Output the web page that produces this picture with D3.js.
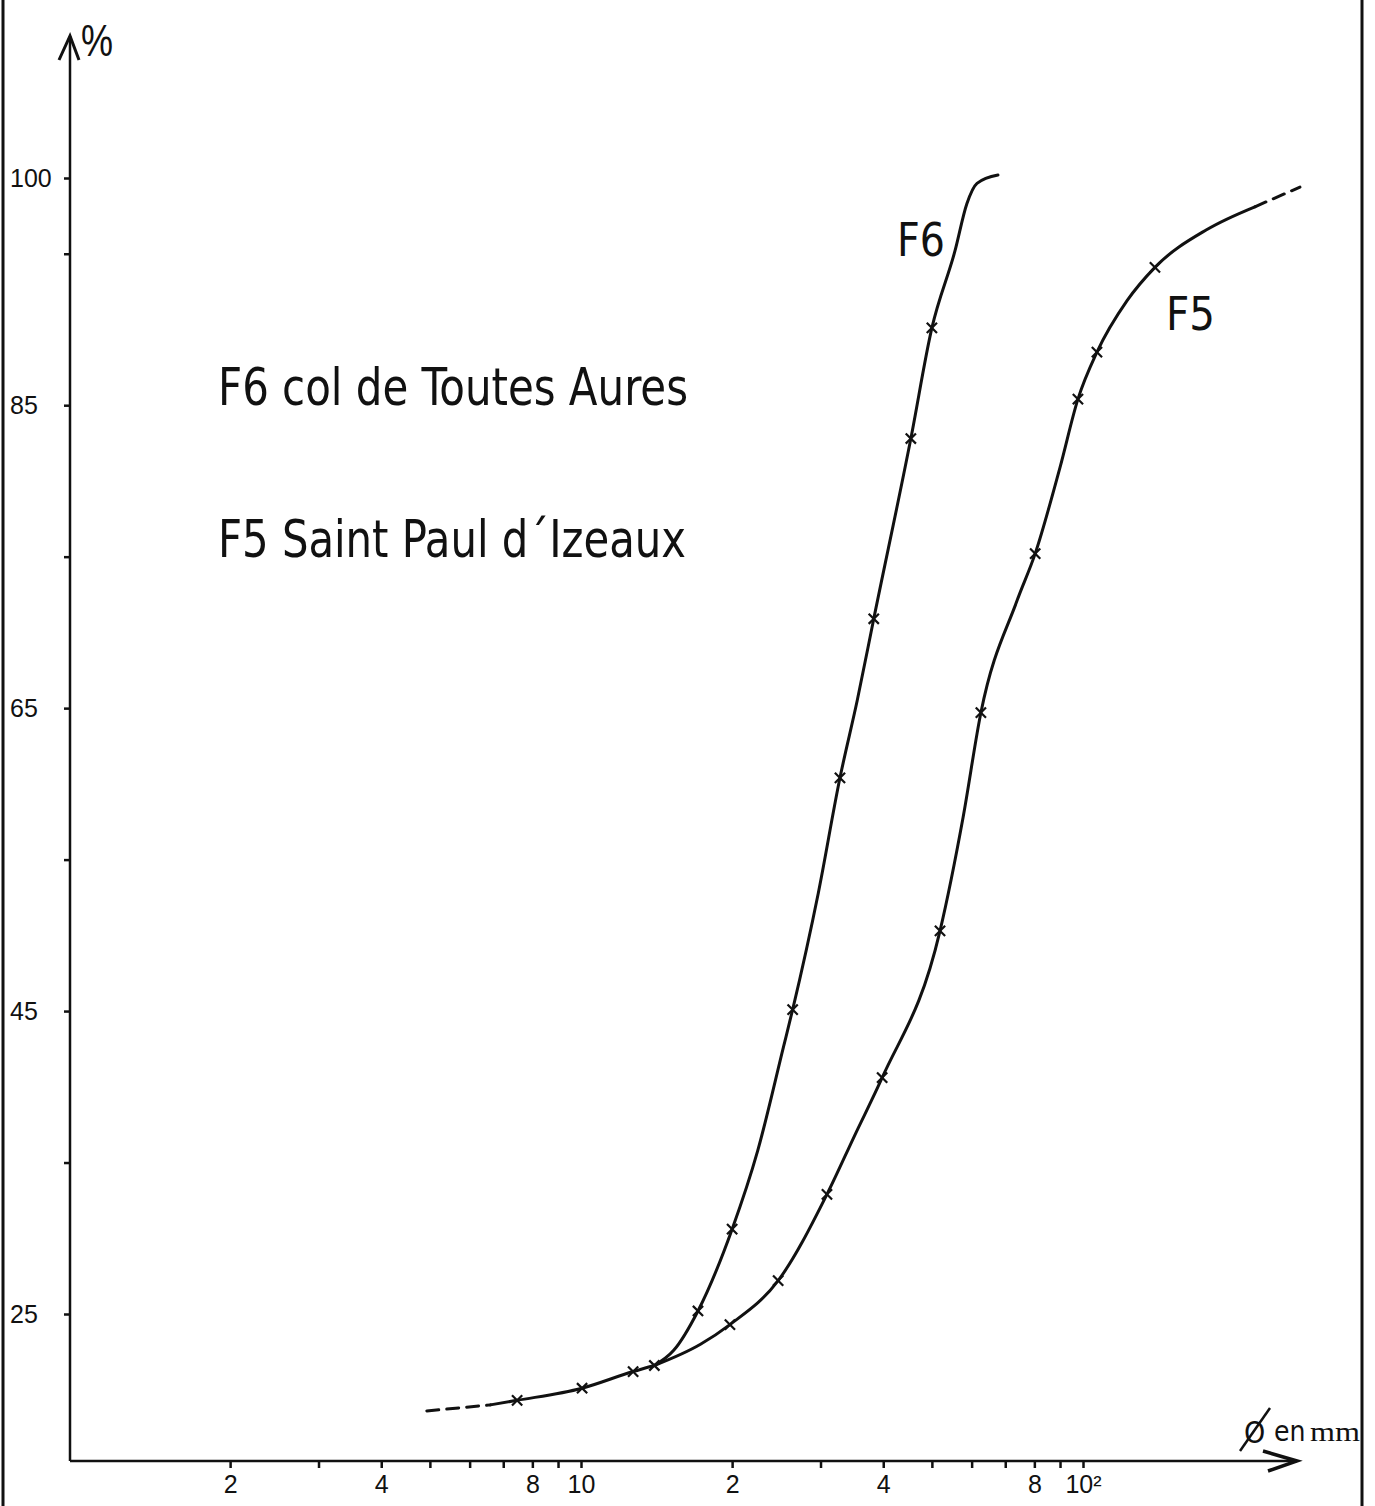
<!DOCTYPE html>
<html>
<head>
<meta charset="utf-8">
<script src="https://cdn.jsdelivr.net/npm/d3@7"></script>
<style>
  body { margin: 0; background: #fff; }
  svg { display: block; }
</style>
</head>
<body>
<svg></svg>
<script>
// grain size curves, % cumulated vs diameter (log scale, mm)

const width = 1375;
const height = 1506;

// [diameter mm, %]
const baseDashed = [[4.93, 18.6], [6.6, 19.0]];
const baseSolid = [[6.6, 19.0], [7.46, 19.3], [10.05, 20.1], [12.7, 21.2], [14.0, 21.6]];
const baseMarks = [[7.46, 19.3], [10.05, 20.1], [12.7, 21.2], [14.0, 21.6]];

const f6Curve = [[14.0, 21.6], [15.3, 22.6], [17.1, 25.2], [20.0, 30.6], [22.5, 35.8],
                 [25.3, 42.6], [26.4, 45.1], [29.7, 52.8], [32.8, 60.4], [35.5, 65.5],
                 [38.3, 70.9], [45.4, 82.8], [50.0, 90.1], [55.6, 95.2],
                 [58.7, 98.3], [61.5, 99.65], [67.7, 100.2]];
const f6Marks = [[17.1, 25.2], [20.0, 30.6], [26.4, 45.1], [32.8, 60.4], [38.3, 70.9],
                 [45.4, 82.8], [50.0, 90.1]];

const f5Curve = [[14.0, 21.6], [17.3, 23.0], [19.8, 24.3], [24.7, 27.2], [30.9, 32.9],
                 [35.1, 36.8], [39.8, 40.6], [51.9, 50.3],
                 [57.7, 57.8], [62.6, 64.7], [73.9, 72.1], [80.3, 75.2],
                 [90.0, 80.9], [97.7, 85.4], [106.6, 88.5], [122.4, 91.9], [139.1, 94.1],
                 [176.6, 96.6], [220, 98.1]];
const f5Dashed = [[220, 98.1], [270.5, 99.4]];
const f5Marks = [[19.8, 24.3], [24.7, 27.2], [30.9, 32.9], [39.8, 40.6], [51.9, 50.3],
                 [62.6, 64.7], [80.3, 75.2], [97.7, 85.4], [106.6, 88.5], [139.1, 94.1]];

const yTicks = [25, 35, 45, 55, 65, 75, 85, 95, 100];
const yLabels = [25, 45, 65, 85, 100];
const xTicks = [2, 3, 4, 5, 6, 7, 8, 9, 10, 20, 30, 40, 50, 60, 70, 80, 90, 100];
const xLabels = { 2: '2', 4: '4', 8: '8', 10: '10', 20: '2', 40: '4', 80: '8', 100: '10²' };

const legendLines = ['F6 col de Toutes Aures', 'F5  Saint  Paul  d´Izeaux'];

const axisX = 70;
const axisY = 1461;

const xScale = d3.scaleLog()
                 .domain([1, 100])
                 .range([79, 1083]);

const yScale = d3.scaleLinear()
                 .domain([25, 100])
                 .range([1314, 178]);

const svg = d3.select('svg')
              .attr('width', width)
              .attr('height', height);

const ink = '#111';
const condensed = '"Liberation Sans Narrow", "DejaVu Sans Condensed", "Roboto Condensed", sans-serif';

// page edges of the scan
svg.append('line')
    .attr('x1', 3).attr('y1', 0).attr('x2', 3).attr('y2', height)
    .attr('stroke', ink).attr('stroke-width', 3);
svg.append('line')
    .attr('x1', 1362).attr('y1', 0).attr('x2', 1362).attr('y2', height)
    .attr('stroke', ink).attr('stroke-width', 3);

// axes
const yAxis = d3.axisLeft(yScale)
                .tickValues(yTicks)
                .tickSize(6)
                .tickFormat((d) => yLabels.includes(d) ? d : '');

const gy = svg.append('g')
    .attr('transform', `translate(${axisX}, 0)`)
    .call(yAxis);
gy.select('.domain').remove();
gy.selectAll('.tick line').attr('stroke', ink).attr('stroke-width', 2.5);
gy.selectAll('.tick text')
    .attr('x', 10 - axisX)
    .attr('text-anchor', 'start')
    .attr('fill', ink)
    .style('font-family', '"Liberation Sans", Arial, sans-serif')
    .style('font-size', '25px');

const xAxis = d3.axisBottom(xScale)
                .tickValues(xTicks)
                .tickSize(7)
                .tickPadding(7)
                .tickFormat((d) => xLabels[d] || '');

const gx = svg.append('g')
    .attr('transform', `translate(0, ${axisY})`)
    .call(xAxis);
gx.select('.domain').remove();
gx.selectAll('.tick line').attr('stroke', ink).attr('stroke-width', 2.5);
gx.selectAll('.tick text')
    .attr('fill', ink)
    .style('font-family', '"Liberation Sans", Arial, sans-serif')
    .style('font-size', '25px');

// axis lines with open arrow heads
svg.append('line')
    .attr('x1', axisX).attr('y1', axisY).attr('x2', axisX).attr('y2', 36)
    .attr('stroke', ink).attr('stroke-width', 2.5);
svg.append('path')
    .attr('d', `M${axisX - 11},60 L${axisX},36 L${axisX + 9},60`)
    .attr('fill', 'none').attr('stroke', ink).attr('stroke-width', 3);

svg.append('line')
    .attr('x1', axisX).attr('y1', axisY).attr('x2', 1297).attr('y2', axisY)
    .attr('stroke', ink).attr('stroke-width', 2.5);
svg.append('path')
    .attr('d', `M1263,${axisY - 10} L1297,${axisY} L1268,${axisY + 10}`)
    .attr('fill', 'none').attr('stroke', ink).attr('stroke-width', 3.5);

// axis titles
svg.append('text')
    .text('%')
    .attr('x', 81).attr('y', 56)
    .attr('textLength', 32).attr('lengthAdjust', 'spacingAndGlyphs')
    .attr('fill', ink)
    .style('font-family', '"Liberation Sans", Arial, sans-serif')
    .style('font-size', '44px');

svg.append('text')
    .text('O')
    .attr('x', 1244).attr('y', 1443)
    .attr('fill', ink)
    .style('font-family', condensed)
    .style('font-size', '30px');
svg.append('line')
    .attr('x1', 1240).attr('y1', 1451).attr('x2', 1270).attr('y2', 1408)
    .attr('stroke', ink).attr('stroke-width', 2.5);
svg.append('text')
    .text('en')
    .attr('x', 1274).attr('y', 1441)
    .attr('fill', ink)
    .style('font-family', condensed)
    .style('font-size', '28px');
svg.append('text')
    .text('mm')
    .attr('x', 1310).attr('y', 1441)
    .attr('textLength', 50).attr('lengthAdjust', 'spacingAndGlyphs')
    .attr('fill', ink)
    .style('font-family', '"Liberation Serif", "DejaVu Serif", serif')
    .style('font-size', '27px');

// curves
const line = d3.line()
               .x((d) => xScale(d[0]))
               .y((d) => yScale(d[1]))
               .curve(d3.curveMonotoneX);

const drawCurve = (data, dashed) => {
  svg.append('path')
      .datum(data)
      .attr('d', line)
      .attr('fill', 'none')
      .attr('stroke', ink)
      .attr('stroke-width', 3)
      .attr('stroke-linecap', 'round')
      .attr('stroke-dasharray', dashed ? '12,8' : null);
};

drawCurve(baseDashed, true);
drawCurve(baseSolid, false);
drawCurve(f6Curve, false);
drawCurve(f5Curve, false);
drawCurve(f5Dashed, true);

// measured points
const cross = d3.symbol().type(d3.symbolX).size(70);

svg.selectAll('.mark')
  .data(baseMarks.concat(f6Marks, f5Marks))
  .enter()
  .append('path')
    .attr('class', 'mark')
    .attr('d', cross)
    .attr('transform', (d) => `translate(${xScale(d[0])}, ${yScale(d[1])})`)
    .attr('fill', 'none')
    .attr('stroke', ink)
    .attr('stroke-width', 2.2);

// labels
svg.append('text')
    .text('F6')
    .attr('x', 897).attr('y', 256)
    .attr('textLength', 48).attr('lengthAdjust', 'spacingAndGlyphs')
    .attr('fill', ink)
    .style('font-family', condensed)
    .style('font-size', '47px');

svg.append('text')
    .text('F5')
    .attr('x', 1166).attr('y', 330)
    .attr('textLength', 49).attr('lengthAdjust', 'spacingAndGlyphs')
    .attr('fill', ink)
    .style('font-family', condensed)
    .style('font-size', '47px');

svg.selectAll('.legend')
  .data(legendLines)
  .enter()
  .append('text')
    .attr('class', 'legend')
    .text((d) => d)
    .attr('x', 218)
    .attr('y', (d, i) => 405 + i * 152)
    .attr('textLength', (d, i) => i === 0 ? 470 : 468)
    .attr('lengthAdjust', 'spacingAndGlyphs')
    .attr('fill', ink)
    .style('font-family', condensed)
    .style('font-size', '52px');
</script>
</body>
</html>
